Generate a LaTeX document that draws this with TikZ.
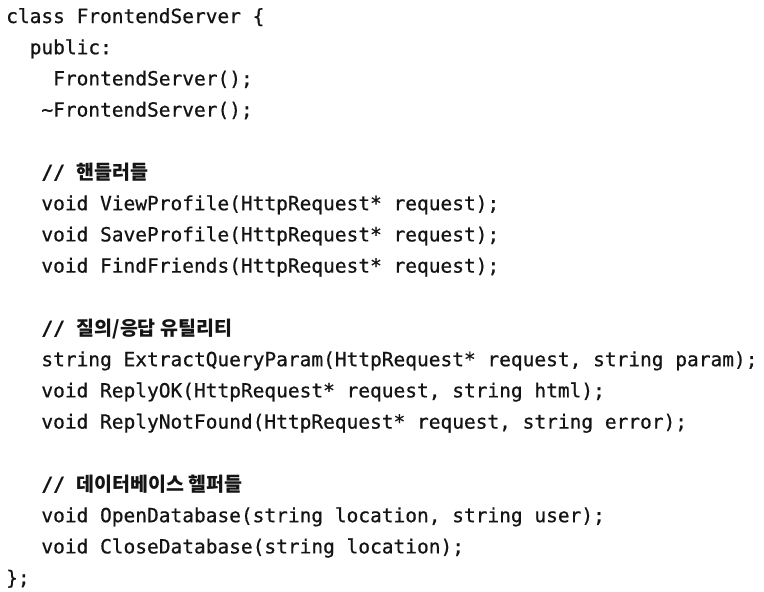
\documentclass[tikz,border=0pt]{standalone}
\usepackage{fontspec}
\setmonofont{DejaVu Sans Mono}[FakeBold=0.7]
\newfontfamily\kr{Noto Sans CJK KR}
\definecolor{ink}{HTML}{141414}
\begin{document}
\begin{tikzpicture}[x=1pt,y=-1pt,
  codeline/.style={anchor=base west,inner sep=0pt,font=\ttfamily\fontsize{19.5}{20}\selectfont,text=ink},
  cmt/.style={codeline}]
\useasboundingbox[fill=white] (0,0) rectangle (764,592);
\def\lh{31.2}
\node[codeline] (l0) at (6,23) {class FrontendServer \{};
\node[codeline] (l1) at (29.5,23+1*\lh) {public:};
\node[codeline] (l2) at (53,23+2*\lh) {FrontendServer();};
\node[codeline] (l3) at (41.2,23+3*\lh) {\textasciitilde FrontendServer();};
\node[cmt] (l5) at (41.2,23+5*\lh) {\bfseries //\ {\kr\bfseries 핸들러들}};
\node[codeline] (l6) at (41.2,23+6*\lh) {void ViewProfile(HttpRequest* request);};
\node[codeline] (l7) at (41.2,23+7*\lh) {void SaveProfile(HttpRequest* request);};
\node[codeline] (l8) at (41.2,23+8*\lh) {void FindFriends(HttpRequest* request);};
\node[cmt] (l10) at (41.2,23+10*\lh) {\bfseries //\ {\kr\bfseries 질의/응답 유틸리티}};
\node[codeline] (l11) at (41.2,23+11*\lh) {string ExtractQueryParam(HttpRequest* request, string param);};
\node[codeline] (l12) at (41.2,23+12*\lh) {void ReplyOK(HttpRequest* request, string html);};
\node[codeline] (l13) at (41.2,23+13*\lh) {void ReplyNotFound(HttpRequest* request, string error);};
\node[cmt] (l15) at (41.2,23+15*\lh) {\bfseries //\ {\kr\bfseries 데이터베이스 헬퍼들}};
\node[codeline] (l16) at (41.2,23+16*\lh) {void OpenDatabase(string location, string user);};
\node[codeline] (l17) at (41.2,23+17*\lh) {void CloseDatabase(string location);};
\node[codeline] (l18) at (6,23+18*\lh) {\};};
\end{tikzpicture}
\end{document}
